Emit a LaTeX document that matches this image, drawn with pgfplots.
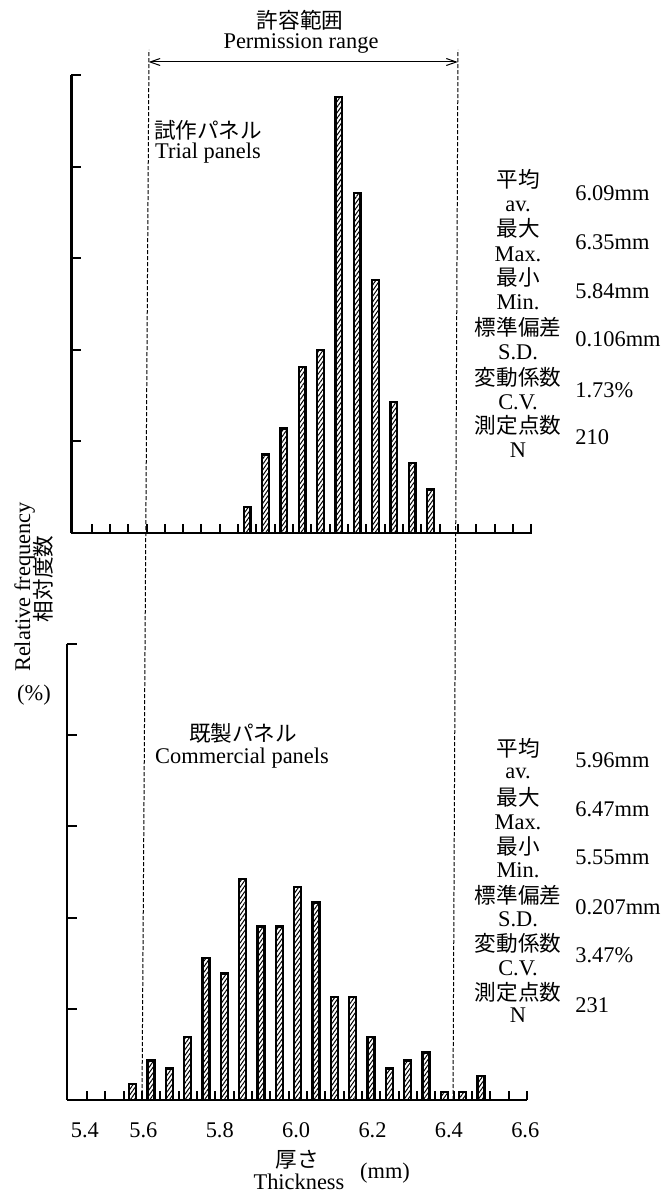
\documentclass[border=0pt]{standalone}
\usepackage{fontspec}
\setmainfont{Liberation Serif}
\newfontfamily\cjk{Noto Sans CJK JP}
\usepackage{pgfplots}
\pgfplotsset{compat=1.18}
\usetikzlibrary{patterns.meta,arrows.meta}
\newcommand{\lt}{\fontsize{11.2}{13}\selectfont}
\newcommand{\jt}{\cjk\fontsize{10.8}{13}\selectfont}

\pgfplotstableread{
x y
5.860 1.43
5.908 4.29
5.956 5.71
6.004 9.05
6.052 10.00
6.100 23.81
6.148 18.57
6.196 13.81
6.244 7.14
6.292 3.81
6.340 2.38
}\trial

\pgfplotstableread{
x y
5.572 0.87
5.620 2.16
5.668 1.73
5.716 3.46
5.764 7.79
5.812 6.93
5.860 12.12
5.908 9.52
5.956 9.52
6.004 11.69
6.052 10.82
6.100 5.63
6.148 5.63
6.196 3.46
6.244 1.73
6.292 2.16
6.340 2.60
6.388 0.43
6.436 0.43
6.484 1.30
}\commercial

\pgfplotsset{
 hist/.style={
   scale only axis, width=230pt, xmin=5.4, xmax=6.6045, ymin=0, ymax=25,
   axis lines*=left, enlargelimits=false, clip=false,
   axis line style={line width=1.2pt, black},
   tick align=inside,
   ytick={5,10,15,20,25}, yticklabels={},
   minor xtick={5.4524,5.5004,...,6.61},
   minor tick length=4.5pt,
   major tick length=5pt,
   tick style={line width=1pt, black},
   major x tick style={draw=none},
 },
 bars/.style={ybar, bar width=3.4pt, draw=black, line width=1.15pt,
   pattern={Lines[angle=55,distance=1.6pt,line width=0.5pt]}},
}

\begin{document}
\begin{tikzpicture}
\path[use as bounding box] (0pt,0pt) rectangle (333pt,595.5pt);

% top panel
\begin{axis}[hist, at={(35.75pt,329pt)}, anchor=south west, height=229pt,
  xtick={6.0}, xticklabels={}]
\addplot[bars] table[x=x,y=y] {\trial};
\end{axis}

% bottom panel
\begin{axis}[hist, at={(33.5pt,45.5pt)}, anchor=south west, height=228pt,
  xtick={5.447,5.6,5.8,6.0,6.2,6.4,6.6},
  xticklabels={5.4,5.6,5.8,6.0,6.2,6.4,6.6},
  xticklabel style={anchor=center, yshift=-15pt, font=\lt}]
\addplot[bars] table[x=x,y=y] {\commercial};
\end{axis}

% permission range
\draw[line width=0.5pt, dash pattern=on 2pt off 1pt] (71pt,45.5pt) -- (74.5pt,570.5pt);
\draw[line width=0.5pt, dash pattern=on 2pt off 1pt] (226.5pt,45.5pt) -- (229pt,570.5pt);
\draw[line width=0.5pt, {Straight Barb[length=5pt,width=3.5pt]}-{Straight Barb[length=5pt,width=3.5pt]}] (74.3pt,564.5pt) -- (228.9pt,564.5pt);
\node[font=\jt, inner sep=0] at (150pt,585.5pt) {許容範囲};
\node[font=\lt, inner sep=0] at (150.5pt,573.5pt) {Permission range};

% panel titles
\node[font=\jt, inner sep=0] at (104pt,530.5pt) {試作パネル};
\node[font=\lt, inner sep=0] at (104pt,519pt) {Trial panels};
\node[font=\jt, inner sep=0] at (121.5pt,229pt) {既製パネル};
\node[font=\lt, inner sep=0] at (121pt,216.5pt) {Commercial panels};

% stats top
\begin{scope}[every node/.style={inner sep=0}]
\node[font=\jt] at (259pt,506pt) {平均};
\node[font=\lt] at (259pt,492.5pt) {av.};
\node[font=\lt, anchor=west] at (287.5pt,499pt) {6.09mm};
\node[font=\jt] at (259pt,481.5pt) {最大};
\node[font=\lt] at (259pt,468.5pt) {Max.};
\node[font=\lt, anchor=west] at (287.5pt,474.5pt) {6.35mm};
\node[font=\jt] at (259pt,457pt) {最小};
\node[font=\lt] at (259pt,444.5pt) {Min.};
\node[font=\lt, anchor=west] at (287.5pt,450pt) {5.84mm};
\node[font=\jt] at (259pt,432pt) {標準偏差};
\node[font=\lt] at (259pt,419.5pt) {S.D.};
\node[font=\lt, anchor=west] at (287.5pt,426pt) {0.106mm};
\node[font=\jt] at (259pt,407pt) {変動係数};
\node[font=\lt] at (259pt,394.5pt) {C.V.};
\node[font=\lt, anchor=west] at (287.5pt,400.5pt) {1.73\%};
\node[font=\jt] at (259pt,383pt) {測定点数};
\node[font=\lt] at (259pt,370.5pt) {N};
\node[font=\lt, anchor=west] at (287.5pt,377pt) {210};

% stats bottom
\node[font=\jt] at (259pt,221.5pt) {平均};
\node[font=\lt] at (259pt,209pt) {av.};
\node[font=\lt, anchor=west] at (287.5pt,215.5pt) {5.96mm};
\node[font=\jt] at (259pt,197pt) {最大};
\node[font=\lt] at (259pt,184.5pt) {Max.};
\node[font=\lt, anchor=west] at (287.5pt,191pt) {6.47mm};
\node[font=\jt] at (259pt,172.5pt) {最小};
\node[font=\lt] at (259pt,160.5pt) {Min.};
\node[font=\lt, anchor=west] at (287.5pt,167pt) {5.55mm};
\node[font=\jt] at (259pt,148pt) {標準偏差};
\node[font=\lt] at (259pt,136pt) {S.D.};
\node[font=\lt, anchor=west] at (287.5pt,142pt) {0.207mm};
\node[font=\jt] at (259pt,124pt) {変動係数};
\node[font=\lt] at (259pt,111.5pt) {C.V.};
\node[font=\lt, anchor=west] at (287.5pt,118pt) {3.47\%};
\node[font=\jt] at (259pt,99.5pt) {測定点数};
\node[font=\lt] at (259pt,88pt) {N};
\node[font=\lt, anchor=west] at (287.5pt,93pt) {231};

% axis labels
\node[font=\lt, rotate=90] at (12.3pt,302pt) {Relative frequency};
\node[font=\jt, rotate=90] at (21.8pt,306pt) {相対度数};
\node[font=\lt] at (17pt,248pt) {(\%)};
\node[font=\jt] at (148.5pt,15.5pt) {厚さ};
\node[font=\lt, anchor=base] at (149.5pt,1pt) {Thickness};
\node[font=\lt] at (192.5pt,9pt) {(mm)};
\end{scope}
\end{tikzpicture}
\end{document}
